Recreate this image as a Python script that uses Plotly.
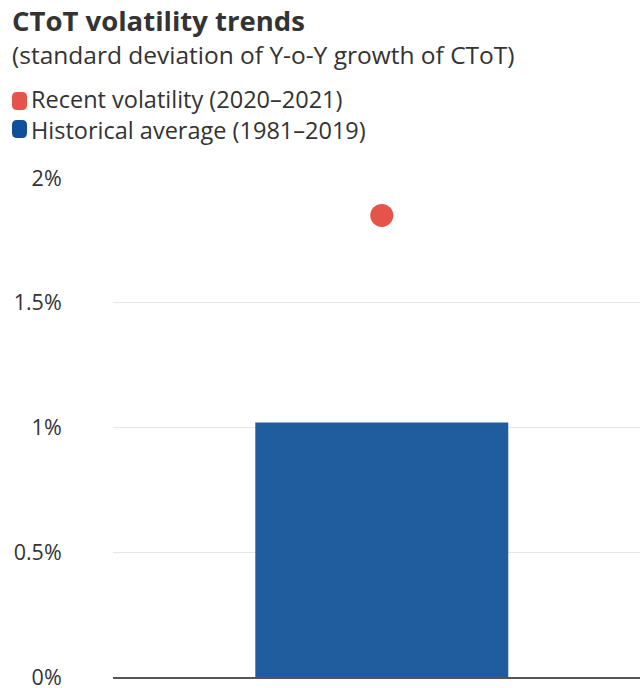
import plotly.graph_objects as go

# Volatility of CToT year-on-year growth (standard deviation, %)
series_names = ["Recent volatility (2020–2021)", "Historical average (1981–2019)"]
recent_volatility = [1.85]
historical_average = [1.02]
positions = [0]
y_ticks = [0, 0.5, 1, 1.5, 2]
y_tick_labels = ["0%", "0.5%", "1%", "1.5%", "2%"]

RED = "#e5534b"
BLUE = "#1f5d9f"
BLUE_KEY = "#114f9c"
FONT = "'Open Sans', 'Noto Sans', sans-serif"
TEXT = "#333333"

W, H = 640, 688
LEFT, TOP, BOTTOM = 113, 177, 11
PLOT_W = W - LEFT
PLOT_H = H - TOP - BOTTOM


def px_x(px):
    """Figure pixel column -> paper x."""
    return (px - LEFT) / PLOT_W


def px_y(py):
    """Figure pixel row -> paper y."""
    return 1 + (TOP - py) / PLOT_H


def key_swatch(x0, y0, x1, y1, r, color):
    """Rounded rectangle used as a legend key."""
    path = (
        f"M {px_x(x0 + r)} {px_y(y0)} L {px_x(x1 - r)} {px_y(y0)} "
        f"Q {px_x(x1)} {px_y(y0)} {px_x(x1)} {px_y(y0 + r)} L {px_x(x1)} {px_y(y1 - r)} "
        f"Q {px_x(x1)} {px_y(y1)} {px_x(x1 - r)} {px_y(y1)} L {px_x(x0 + r)} {px_y(y1)} "
        f"Q {px_x(x0)} {px_y(y1)} {px_x(x0)} {px_y(y1 - r)} L {px_x(x0)} {px_y(y0 + r)} "
        f"Q {px_x(x0)} {px_y(y0)} {px_x(x0 + r)} {px_y(y0)} Z"
    )
    return dict(type="path", xref="paper", yref="paper", path=path,
                fillcolor=color, line=dict(width=0), layer="above")


def label(text, x, y, size, bold=False):
    return dict(
        text=f"<b>{text}</b>" if bold else text,
        xref="paper", yref="paper",
        x=px_x(x), y=px_y(y),
        xanchor="left", yanchor="middle",
        align="left",
        showarrow=False,
        font=dict(size=size, color=TEXT, family=FONT),
    )


fig = go.Figure()

fig.add_trace(go.Bar(
    x=positions,
    y=historical_average,
    name=series_names[1],
    marker=dict(color=BLUE, line=dict(width=0)),
    width=0.48,
    showlegend=False,
))

fig.add_trace(go.Scatter(
    x=positions,
    y=recent_volatility,
    name=series_names[0],
    mode="markers",
    marker=dict(color=RED, size=23, line=dict(width=0)),
    showlegend=False,
))

fig.update_layout(
    width=W,
    height=H,
    paper_bgcolor="white",
    plot_bgcolor="white",
    font=dict(family=FONT, color=TEXT, size=20),
    margin=dict(l=LEFT, r=0, t=TOP, b=BOTTOM, autoexpand=False),
    showlegend=False,
    xaxis=dict(
        range=[-0.51, 0.49],
        showticklabels=False,
        showgrid=False,
        zeroline=False,
        showline=True,
        linecolor="#555555",
        linewidth=1.5,
        ticks="",
        automargin=False,
    ),
    yaxis=dict(
        range=[0, 2.004],
        tickmode="array",
        tickvals=y_ticks,
        ticktext=y_tick_labels,
        ticklabeloverflow="allow",
        automargin=False,
        showgrid=True,
        gridcolor="#e6e6e6",
        gridwidth=1,
        zeroline=False,
        showline=False,
        ticks="outside",
        ticklen=46,
        tickcolor="rgba(0,0,0,0)",
        tickfont=dict(size=21.5, color=TEXT),
    ),
    annotations=[
        label("CToT volatility trends", 10, 21, 27.5, bold=True),
        label("(standard deviation of Y-o-Y growth of CToT)", 10, 54, 24.5),
        label(f"{series_names[0]}<br>{series_names[1]}", 29, 115, 23.5),
    ],
    shapes=[
        key_swatch(12, 92, 27, 110, 5, RED),
        key_swatch(12, 120, 27, 138, 5, BLUE_KEY),
    ],
)

fig.write_html("out.html")
